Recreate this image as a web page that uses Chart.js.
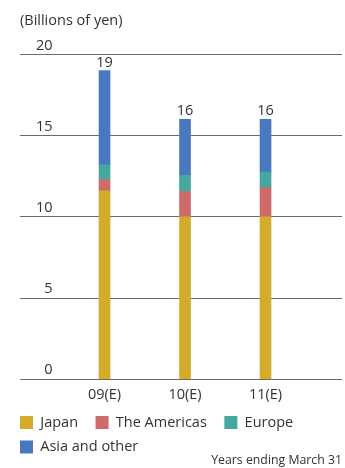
<!DOCTYPE html>
<html>
<head>
<meta charset="utf-8">
<script src="https://cdn.jsdelivr.net/npm/chart.js@4/dist/chart.umd.min.js"></script>
<style>
  html, body { margin: 0; padding: 0; background: #fff; overflow: hidden; }
  canvas { display: block; }
</style>
</head>
<body>
<canvas id="capex_chart" width="345" height="468"></canvas>
<script>
// DATA (billions of yen)
const years = ["09(E)", "10(E)", "11(E)"];
const japan = [11.6, 10.0, 10.0];
const americas = [0.7, 1.55, 1.8];
const europe = [0.9, 1.0, 0.95];
const asia_other = [5.8, 3.45, 3.25];
const totals = [19, 16, 16];
const y_ticks = [0, 5, 10, 15, 20];

const FONT = '"Open Sans", "Noto Sans", sans-serif';
const TEXT = "#333333";
const SIZE = 14.5;

// bars sit at positions 1..n on a linear axis
function points(values) {
  return values.map((v, i) => ({ x: i + 1, y: v }));
}

// TOTAL LABEL ABOVE EACH STACK
const totalLabels = {
  id: "totalLabels",
  afterDatasetsDraw(chart) {
    const ctx = chart.ctx;
    const meta = chart.getDatasetMeta(chart.data.datasets.length - 1);
    ctx.save();
    ctx.font = SIZE + "px " + FONT;
    ctx.fillStyle = TEXT;
    ctx.textAlign = "center";
    ctx.textBaseline = "bottom";
    meta.data.forEach((bar, i) => {
      ctx.fillText(String(totals[i]), bar.x, bar.y - 1);
    });
    ctx.restore();
  },
};

const ctx = document.getElementById("capex_chart").getContext("2d");

new Chart(ctx, {
  type: "bar",
  data: {
    datasets: [
      { label: "Japan", data: points(japan), backgroundColor: "#d3ac2a" },
      { label: "The Americas", data: points(americas), backgroundColor: "#cd6a6a" },
      { label: "Europe", data: points(europe), backgroundColor: "#45a7a0" },
      { label: "Asia and other", data: points(asia_other), backgroundColor: "#4879bf" },
    ],
  },
  options: {
    responsive: false,
    animation: false,
    devicePixelRatio: 1,
    barThickness: 11,
    layout: { padding: { left: 10, right: 3, top: 0, bottom: 0 } },
    scales: {
      x: {
        type: "linear",
        offset: false,
        stacked: true,
        min: -0.05,
        max: 3.95,
        afterBuildTicks: (scale) => {
          scale.ticks = years.map((_, i) => ({ value: i + 1 }));
        },
        afterFit: (scale) => {
          scale.height = 26;
        },
        grid: { display: false, drawTicks: false },
        border: { display: false },
        ticks: {
          padding: 7,
          color: TEXT,
          font: { family: FONT, size: SIZE },
          maxRotation: 0,
          callback: (value) => years[Math.round(value) - 1] || "",
        },
      },
      y: {
        stacked: true,
        min: 0,
        max: 20,
        afterBuildTicks: (scale) => {
          scale.ticks = y_ticks.map((v) => ({ value: v }));
        },
        afterFit: (scale) => {
          scale.width = 10;
        },
        grid: { color: "#6b6b6b", lineWidth: 1, drawTicks: false },
        border: { display: false },
        ticks: {
          mirror: true,
          crossAlign: "far",
          padding: 16,
          labelOffset: -9,
          color: TEXT,
          font: { family: FONT, size: SIZE },
        },
      },
    },
    plugins: {
      title: {
        display: true,
        text: "(Billions of yen)",
        align: "start",
        fullSize: false,
        color: TEXT,
        font: { family: FONT, size: SIZE, weight: "normal" },
        padding: { top: 12, bottom: 25 },
      },
      subtitle: {
        display: true,
        position: "bottom",
        text: "Years ending March 31",
        align: "end",
        fullSize: false,
        color: TEXT,
        font: { family: FONT, size: 12.3, weight: "normal" },
        padding: { top: -11, bottom: 0 },
      },
      legend: {
        position: "bottom",
        align: "start",
        labels: {
          boxWidth: 13,
          boxHeight: 13,
          padding: 10,
          color: TEXT,
          font: { family: FONT, size: SIZE },
          generateLabels: (chart) =>
            Chart.defaults.plugins.legend.labels
              .generateLabels(chart)
              .map((item) => ({ ...item, text: item.text + "  " })),
        },
      },
      tooltip: { enabled: false },
    },
  },
  plugins: [totalLabels],
});
</script>
</body>
</html>
